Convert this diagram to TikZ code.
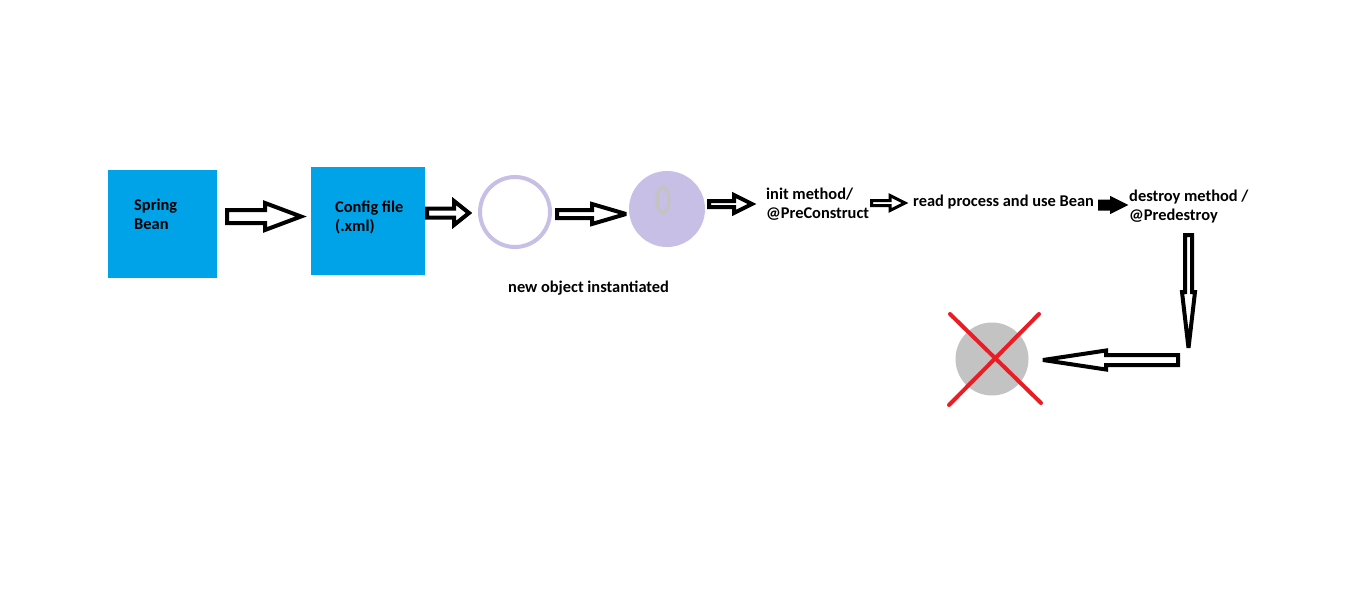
\documentclass[tikz,border=0pt]{standalone}
\usepackage{fontspec}
\setmainfont{Carlito}
\usetikzlibrary{shapes.geometric}
\definecolor{paintblue}{HTML}{00A2E8}
\definecolor{lavender}{HTML}{C8BFE7}
\definecolor{paintgray}{HTML}{C3C3C3}
\definecolor{paintred}{HTML}{ED1C24}
\newcommand\harrow[7][]{% [style] tail x, head-base x, tip x, center y, shaft half, head half
  \draw[barrow,#1] ({#2},{#5-#6}) -- ({#3},{#5-#6}) -- ({#3},{#5-#7}) -- ({#4},{#5})
    -- ({#3},{#5+#7}) -- ({#3},{#5+#6}) -- ({#2},{#5+#6}) -- cycle;}
\newcommand\varrow[7][]{% [style] tail y, head-base y, tip y, center x, shaft half, head half
  \draw[barrow,#1] ({#5-#6},{#2}) -- ({#5-#6},{#3}) -- ({#5-#7},{#3}) -- ({#5},{#4})
    -- ({#5+#7},{#3}) -- ({#5+#6},{#3}) -- ({#5+#6},{#2}) -- cycle;}
\begin{document}
\begin{tikzpicture}[x=1pt,y=-1pt,
  lbl/.style={font=\bfseries\fontsize{16.4}{18.8}\selectfont, inner sep=0pt, align=left, anchor=base west},
  barrow/.style={draw=black, line width=4pt, fill=white, line join=miter, miter limit=3},
  bluebox/.style={fill=paintblue, draw=none, inner sep=0pt, anchor=north west},
  redx/.style={draw=paintred, line width=4pt, line cap=round}]
\useasboundingbox[fill=white] (0,0) rectangle (1360,590);

% boxes
\node[bluebox, minimum width=109pt, minimum height=108pt] (sb) at (108,170) {};
\node[bluebox, minimum width=114pt, minimum height=108pt] (cf) at (311,167) {};
\node[lbl] (sbt) at (134,229.5) {Spring\\Bean};
\node[lbl] (cft) at (335,231) {Config file\\(.xml)};

% circles
\node[circle, draw=lavender, line width=4pt, minimum size=70pt, inner sep=0pt] (c1) at (515,212) {};
\node[circle, fill=lavender, minimum size=76pt, inner sep=0pt] (c2) at (667,209) {};
\node[ellipse, draw=paintgray, line width=3.5pt, minimum width=12pt, minimum height=26pt, inner sep=0pt] (zero) at (663,200) {};
\node[circle, fill=paintgray, minimum size=73pt, inner sep=0pt] (c3) at (992,359) {};

% labels
\node[lbl] (noi) at (508,292) {new object instantiated};
\node[lbl] (init) at (766,218.5) {init method/\\@PreConstruct};
\node[lbl] (read) at (913,206) {read process and use Bean};
\node[lbl] (dest) at (1129,220) {destroy method /\\@Predestroy};

% block arrows
\harrow{227}{265}{301}{216.5}{6.5}{13.5}
\harrow{427}{454}{469}{213}{4.5}{12}
\harrow{557}{592}{626}{214}{4}{10}
\harrow{709}{734}{752}{204}{3}{9}
\harrow[line width=3pt]{871.5}{890}{905}{203}{2.5}{7.5}
\harrow[fill=black]{1100}{1112}{1124}{205}{3.5}{6}
\varrow{235}{292}{348}{1188.5}{3.5}{6.5}
\harrow{1178}{1106}{1043}{360}{5}{9.5}

% red cross
\coordinate (x1) at (950,314);
\coordinate (x2) at (1041,403);
\coordinate (x3) at (1039,314);
\coordinate (x4) at (949,405);
\draw[redx] (x1) -- (x2);
\draw[redx] (x3) -- (x4);
\end{tikzpicture}
\end{document}
